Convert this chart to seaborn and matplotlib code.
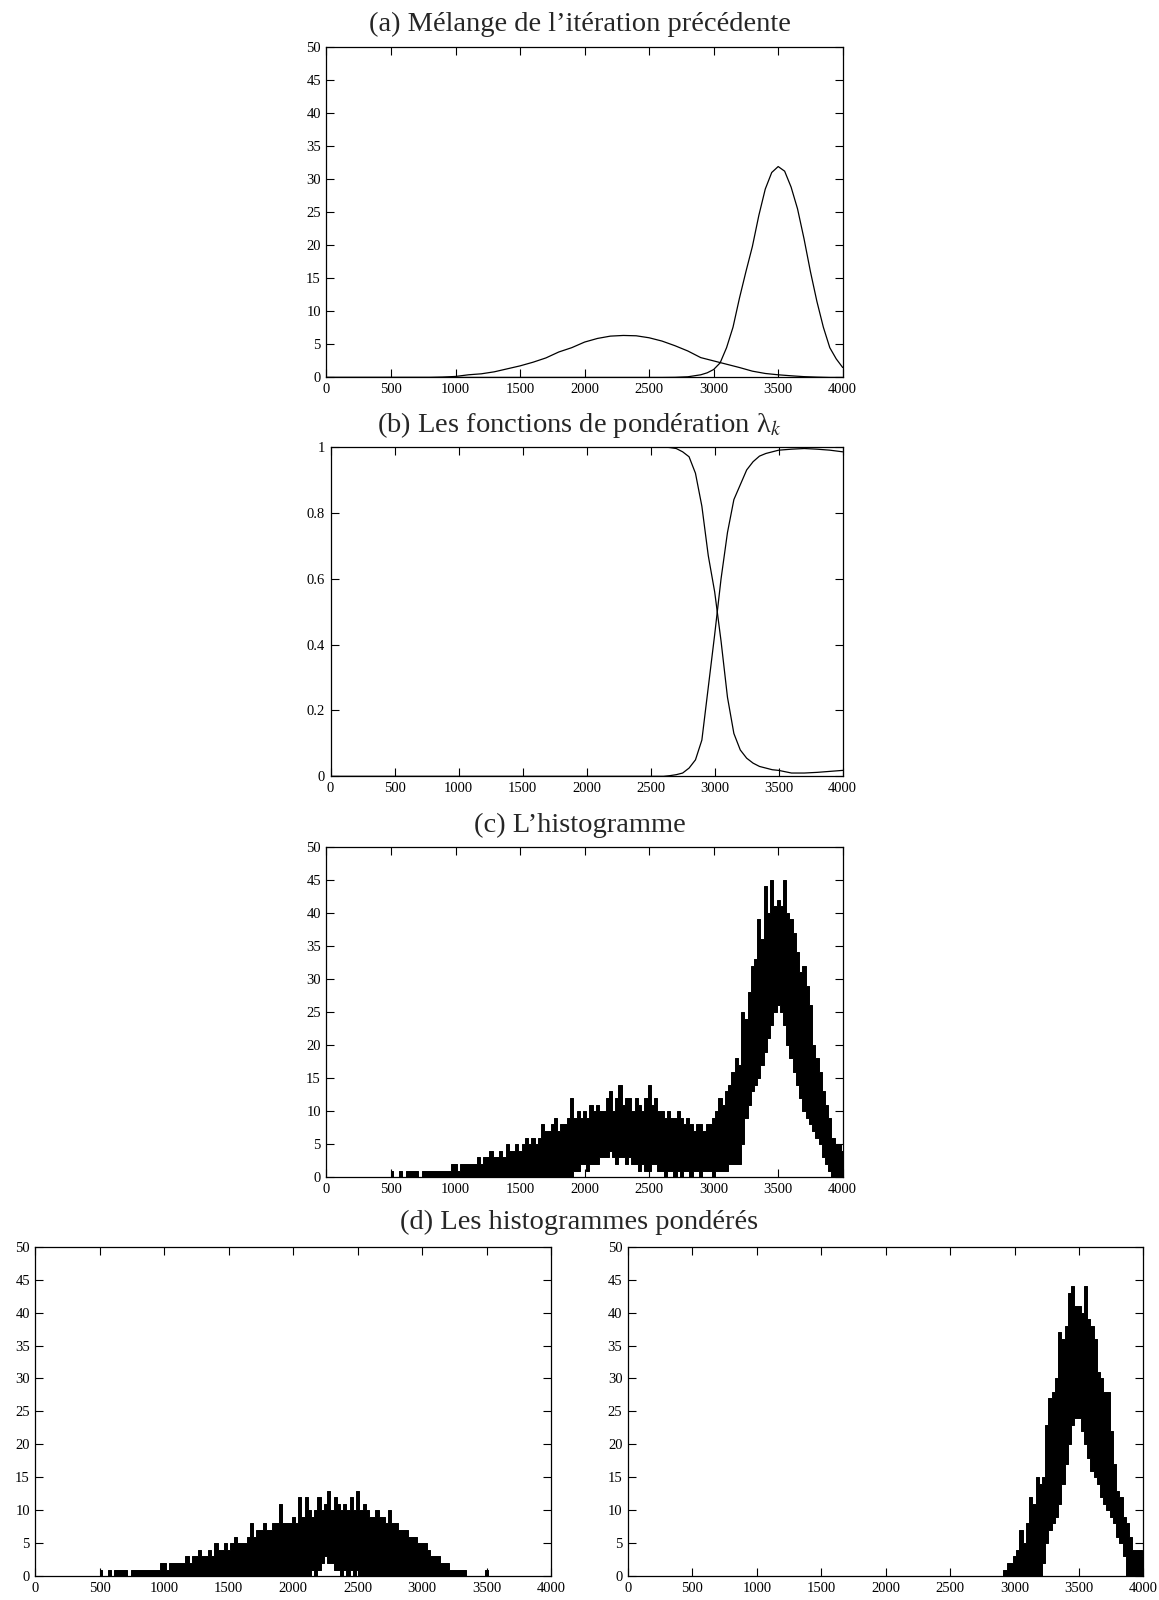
import numpy as np
import seaborn as sns
import matplotlib.pyplot as plt
from matplotlib.ticker import MultipleLocator, FuncFormatter

# (a) mélange : deux composantes
large_x = [0, 800, 900, 1000, 1100, 1200, 1300, 1400, 1500, 1600, 1700, 1800, 1900, 2000,
           2100, 2200, 2300, 2400, 2500, 2600, 2700, 2800, 2900, 3000, 3100, 3200, 3300,
           3400, 3500, 3600, 3700, 3800, 3900, 4000]
large_y = [0, 0, 0.05, 0.15, 0.4, 0.55, 0.85, 1.3, 1.75, 2.3, 2.95, 3.85, 4.5, 5.35,
           5.9, 6.25, 6.35, 6.3, 6.0, 5.5, 4.8, 4.0, 3.0, 2.5, 2.0, 1.5, 0.95,
           0.6, 0.4, 0.25, 0.12, 0.05, 0, 0]
etroit_x = [0, 2600, 2700, 2800, 2900, 2950, 3000, 3050, 3100, 3150, 3200, 3250, 3300,
            3350, 3400, 3450, 3500, 3550, 3600, 3650, 3700, 3750, 3800, 3850, 3900, 3950, 4000]
etroit_y = [0, 0, 0.02, 0.1, 0.4, 0.7, 1.2, 2.2, 4.5, 7.6, 12, 16, 19.8,
            24.5, 28.5, 31, 31.9, 31.2, 28.8, 25.5, 21, 16, 11.5, 7.6, 4.5, 2.8, 1.5]

# (b) fonctions de pondération
lambda_x = [0, 2600, 2650, 2700, 2750, 2800, 2850, 2900, 2950, 3000, 3050, 3100, 3150,
            3200, 3250, 3300, 3350, 3400, 3450, 3500, 3600, 3700, 3800, 3900, 4000]
lambda_1 = [1, 1, 0.998, 0.995, 0.985, 0.97, 0.92, 0.82, 0.67, 0.56, 0.41, 0.24, 0.13,
            0.08, 0.055, 0.04, 0.03, 0.025, 0.02, 0.018, 0.01, 0.01, 0.012, 0.015, 0.018]
lambda_2 = [0, 0, 0.002, 0.005, 0.01, 0.025, 0.05, 0.11, 0.27, 0.43, 0.6, 0.74, 0.84,
            0.885, 0.93, 0.955, 0.972, 0.98, 0.985, 0.99, 0.993, 0.995, 0.993, 0.99, 0.985]

# (c) histogramme : enveloppes haute / basse lues tous les 25, de 500 à 4000
hist_x = list(range(500, 4001, 25))
hist_haut = ([1, 0, 0, 1, 0, 1, 1, 1, 1, 0, 1, 1, 1, 1, 1, 1, 1, 1, 1, 2]            # 500-975
             + [2, 1, 2, 2, 2, 2, 2, 3, 2, 3, 3, 4, 3, 3, 4, 3, 5, 4, 4, 5]          # 1000-1475
             + [4, 5, 6, 5, 6, 5, 6, 8, 7, 7, 8, 9, 7, 8, 8, 9, 12, 9, 10, 9]        # 1500-1975
             + [10, 9, 11, 10, 11, 10, 10, 12, 13, 10, 12, 14, 11, 12, 12, 10, 12, 11, 10, 12]
             + [14, 11, 12, 10, 10, 9, 10, 9, 9, 10, 9, 8, 9, 8, 7, 8, 8, 7, 8, 8]
             + [9, 10, 12, 11, 13, 14, 16, 18, 17, 25, 24, 28, 32, 33, 39, 36, 44, 40, 45, 41]
             + [42, 41, 45, 40, 39, 37, 34, 31, 32, 29, 26, 20, 18, 16, 13, 11, 9, 6, 5, 5]
             + [4])
hist_bas = ([0] * 20 + [0] * 20                                                      # 500-1475
            + [0, 0, 0, 0, 0, 0, 0, 0, 0, 0, 0, 0, 0, 0, 0, 0, 0, 1, 1, 2]
            + [2, 1, 2, 2, 2, 3, 3, 3, 4, 3, 2, 3, 3, 2, 3, 2, 2, 1, 2, 1]
            + [1, 2, 2, 1, 1, 0, 1, 1, 0, 1, 0, 1, 1, 0, 1, 1, 0, 1, 1, 1]
            + [0, 1, 1, 1, 1, 2, 2, 2, 2, 5, 9, 11, 13, 14, 15, 17, 19, 21, 23, 25]
            + [26, 25, 23, 20, 18, 16, 14, 12, 10, 9, 8, 7, 6, 5, 3, 2, 1, 0, 0, 0]
            + [0])

# (d) histogrammes pondérés
pond1_x = list(range(500, 3526, 25))
pond1_haut = ([1, 0, 0, 1, 0, 1, 1, 1, 1, 0, 1, 1, 1, 1, 1, 1, 1, 1, 1, 2]
              + [2, 1, 2, 2, 2, 2, 2, 3, 2, 3, 3, 4, 3, 3, 4, 3, 5, 4, 4, 5]
              + [4, 5, 6, 5, 5, 5, 6, 8, 6, 7, 7, 8, 7, 7, 8, 8, 11, 8, 8, 8]
              + [9, 8, 12, 9, 12, 10, 9, 10, 12, 10, 11, 13, 10, 12, 11, 10, 11, 10, 12, 10]
              + [13, 10, 11, 10, 9, 9, 10, 9, 9, 8, 10, 8, 8, 7, 7, 7, 6, 6, 6, 5]
              + [5, 5, 4, 3, 3, 3, 2, 2, 2, 1, 1, 1, 1, 1, 0, 0, 0, 0, 0, 0]
              + [1, 0])
pond1_bas = ([0] * 20 + [0] * 20 + [0] * 20
             + [0, 0, 0, 0, 0, 0, 1, 0, 1, 2, 3, 2, 2, 1, 1, 0, 1, 0, 1, 0]
             + [1, 0, 0, 0, 0, 0, 0, 0, 0, 0, 0, 0, 0, 0, 0, 0, 0, 0, 0, 0]
             + [0] * 20
             + [0, 0])

pond2_x = list(range(2900, 4001, 25))
pond2_haut = ([0, 1, 2, 2]
              + [3, 4, 7, 5, 8, 12, 11, 15, 14, 15, 23, 27, 28, 30, 37, 36, 38, 43, 44, 41]
              + [41, 40, 44, 39, 38, 36, 31, 30, 28, 28, 22, 17, 13, 12, 9, 8, 6, 4, 4, 4]
              + [3])
pond2_bas = ([0, 0, 0, 0]
             + [0, 0, 0, 0, 0, 0, 0, 0, 0, 2, 5, 7, 8, 9, 11, 14, 17, 20, 23, 24]
             + [24, 22, 20, 18, 16, 15, 14, 12, 11, 10, 9, 8, 6, 5, 3, 0, 0, 0, 0, 0]
             + [0])

sns.set_style("ticks")
plt.rcParams['font.family'] = ['Liberation Serif', 'DejaVu Serif']
plt.rcParams['mathtext.fontset'] = 'stix'

fig = plt.figure(figsize=(11.59, 16), dpi=100)

ax_a = fig.add_axes([0.2817, 0.7641, 0.4454, 0.2066])
ax_b = fig.add_axes([0.2852, 0.5148, 0.4419, 0.2059])
ax_c = fig.add_axes([0.2817, 0.2642, 0.4454, 0.2066])
ax_d1 = fig.add_axes([0.0306, 0.0149, 0.4448, 0.2059])
ax_d2 = fig.add_axes([0.5418, 0.0149, 0.4448, 0.2059])


def habiller(ax, ymax, ypas):
    ax.set_xlim(0, 4000)
    ax.set_ylim(0, ymax)
    ax.xaxis.set_major_locator(MultipleLocator(500))
    ax.yaxis.set_major_locator(MultipleLocator(ypas))
    ax.yaxis.set_major_formatter(FuncFormatter(lambda v, p: f"{v:g}"))
    ax.tick_params(direction='in', top=True, right=True, length=6, width=0.8,
                   labelsize=10.5, pad=4, colors='black')
    for s in ax.spines.values():
        s.set_linewidth(0.9)
        s.set_color('black')
    ax.set_xlabel("")
    ax.set_ylabel("")


# (a)
sns.lineplot(x=large_x, y=large_y, ax=ax_a, color='black', linewidth=0.9)
sns.lineplot(x=etroit_x, y=etroit_y, ax=ax_a, color='black', linewidth=0.9)
habiller(ax_a, 50, 5)

# (b)
sns.lineplot(x=lambda_x, y=lambda_1, ax=ax_b, color='black', linewidth=0.9)
sns.lineplot(x=lambda_x, y=lambda_2, ax=ax_b, color='black', linewidth=0.9)
habiller(ax_b, 1, 0.2)

# (c) et (d)
for ax, x, bas, haut in [(ax_c, hist_x, hist_bas, hist_haut),
                         (ax_d1, pond1_x, pond1_bas, pond1_haut),
                         (ax_d2, pond2_x, pond2_bas, pond2_haut)]:
    ax.fill_between(x, bas, haut, step='mid', color='black', linewidth=0.7)
    habiller(ax, 50, 5)

titre = dict(ha='center', va='baseline', fontsize=20.5)
fig.text(0.5, 0.9809, "(a) Mélange de l’itération précédente", **titre)
fig.text(0.5, 0.7303, "(b) Les fonctions de pondération λ$_k$", **titre)
fig.text(0.5, 0.4797, "(c) L’histogramme", **titre)
fig.text(0.5, 0.2317, "(d) Les histogrammes pondérés", **titre)

fig.savefig("out.png", dpi=100)
